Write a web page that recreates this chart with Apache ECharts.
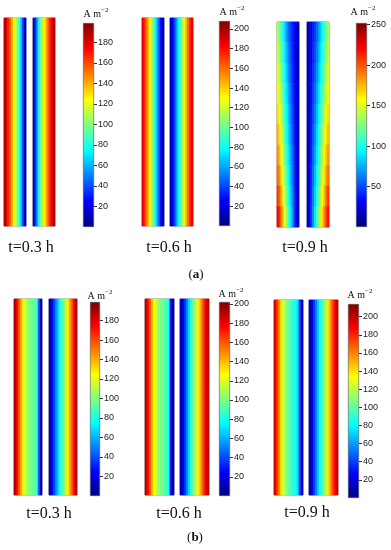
<!DOCTYPE html>
<html><head><meta charset="utf-8">
<script src="https://cdn.jsdelivr.net/npm/echarts@6/dist/echarts.min.js"></script>
<style>html,body{margin:0;padding:0;background:#fff}#c{width:391px;height:550px}</style>
</head><body><div id="c"></div>
<script>
// ---------- DATA ----------
// Each strip profile: values across the strip width, left -> right (A m^-2)
const a1Left  = [190, 180, 168, 155, 140, 126, 112, 99, 84, 62, 38, 16];
const a1Right = [15, 34, 58, 80, 98, 112, 127, 142, 157, 170, 181, 190];
const a2Left  = [186, 175, 160, 145, 128, 112, 95, 78, 60, 42, 26, 12];
const a2Right = [12, 25, 40, 58, 76, 94, 111, 128, 145, 160, 174, 186];
// a3 varies with height: rows from top to bottom
const a3LeftRows = [
  [136, 125, 111, 97, 84, 70, 58, 47, 38, 29, 21, 14],
  [143, 132, 118, 104, 90, 76, 63, 51, 41, 31, 22, 14],
  [151, 140, 125, 111, 96, 82, 68, 55, 44, 33, 23, 14],
  [159, 148, 133, 118, 103, 88, 73, 60, 47, 35, 24, 14],
  [167, 156, 141, 125, 110, 94, 79, 64, 50, 37, 24, 14],
  [176, 164, 149, 133, 117, 100, 84, 69, 54, 39, 25, 14],
  [185, 173, 157, 141, 124, 107, 90, 74, 58, 41, 26, 14],
  [195, 183, 166, 149, 132, 114, 96, 79, 62, 43, 27, 14],
  [208, 196, 177, 160, 142, 122, 103, 85, 66, 45, 27, 14],
  [222, 210, 190, 172, 153, 131, 110, 91, 70, 47, 28, 14]
];
const a3RightRows = [
  [14, 20, 28, 37, 46, 57, 69, 82, 96, 110, 123, 134],
  [14, 21, 30, 40, 50, 62, 75, 88, 102, 116, 130, 141],
  [14, 22, 32, 43, 54, 67, 80, 94, 109, 123, 138, 149],
  [14, 23, 34, 46, 58, 72, 86, 101, 116, 131, 146, 157],
  [14, 23, 36, 49, 63, 77, 92, 108, 123, 139, 154, 165],
  [14, 24, 38, 52, 67, 83, 98, 115, 131, 147, 162, 174],
  [14, 25, 40, 56, 72, 88, 105, 122, 139, 155, 171, 183],
  [14, 26, 42, 60, 77, 94, 112, 129, 147, 164, 180, 193],
  [14, 27, 44, 64, 83, 101, 120, 138, 157, 174, 192, 206],
  [14, 28, 46, 68, 89, 108, 128, 148, 168, 187, 205, 218]
];
const b1Left  = [190, 178, 160, 143, 128, 117, 108, 102, 98, 95, 92, 88, 45, 12];
const b1Right = [10, 22, 36, 50, 64, 77, 89, 101, 114, 127, 141, 156, 172, 188];
const b2Left  = [190, 176, 158, 140, 126, 115, 106, 100, 96, 93, 90, 80, 30, 10];
const b2Right = [10, 20, 35, 52, 68, 82, 95, 108, 121, 135, 150, 166, 180, 190];
const b3Left  = [195, 180, 160, 142, 128, 116, 106, 98, 92, 88, 84, 76, 40, 12];
const b3Right = [10, 22, 38, 55, 70, 84, 96, 110, 124, 140, 156, 172, 186, 198];

const timeLabels   = ['t=0.3 h', 't=0.6 h', 't=0.9 h', 't=0.3 h', 't=0.6 h', 't=0.9 h'];
const colorbarMin  = [0, 0, 0, 0, 0, 0];
const colorbarMax  = [199, 208, 252, 199, 202, 214];
const tickInterval = [20, 20, 50, 20, 20, 20];
const sectionLabels = ['a', 'b'];

// ---------- LAYOUT ----------
const stripData = [
  [[a1Left], [a1Right]],
  [[a2Left], [a2Right]],
  [a3LeftRows, a3RightRows],
  [[b1Left], [b1Right]],
  [[b2Left], [b2Right]],
  [[b3Left], [b3Right]]
];
const layout = [
  {L:[4,18,22,208],   R:[33,18,22,208],   cb:[83,23,11,204],   unit:[96,13],   time:[31,248]},
  {L:[142,18,22,208], R:[170,18,23,208],  cb:[219,21,11,205],  unit:[232,11],  time:[169,248]},
  {L:[277,22,22,205], R:[307,22,22,205],  cb:[356,23,11,204],  unit:[363,11],  time:[305,248]},
  {L:[14,299,28,196], R:[49,299,28,196],  cb:[90,302,10,194],  unit:[100,295], time:[49,514]},
  {L:[145,299,29,196],R:[180,299,29,196], cb:[219,302,11,194], unit:[231,293], time:[179,514]},
  {L:[274,300,29,195],R:[309,300,29,195], cb:[348,304,11,194], unit:[360,294], time:[307,513]}
];
const sectionPos = [[196,275],[195,538]];

const jet = ['#00007f','#0000ff','#007fff','#00ffff','#7fff7f','#ffff00','#ff7f00','#ff0000','#7f0000'];

const grids = [], xAxes = [], yAxes = [], series = [], visualMaps = [], graphics = [];

function addStrip(rect, rows) {
  const gi = grids.length;
  grids.push({left: rect[0], top: rect[1], width: rect[2], height: rect[3],
    show: true, borderColor: '#8a8a8a', borderWidth: 1, backgroundColor: 'transparent'});
  const nCols = rows[0].length;
  xAxes.push({type: 'category', gridIndex: gi, show: false,
    data: rows[0].map((_, i) => i)});
  yAxes.push({type: 'category', gridIndex: gi, show: false, inverse: true,
    data: rows.map((_, i) => i)});
  const d = [];
  rows.forEach((r, ri) => r.forEach((v, ci) => d.push([ci, ri, v])));
  series.push({type: 'heatmap', xAxisIndex: gi, yAxisIndex: gi, data: d,
    progressive: 0, emphasis: {disabled: true}, silent: true});
  return series.length - 1;
}

layout.forEach((lay, p) => {
  const sL = addStrip(lay.L, stripData[p][0]);
  const sR = addStrip(lay.R, stripData[p][1]);
  visualMaps.push({type: 'continuous', show: false, min: colorbarMin[p], max: colorbarMax[p],
    seriesIndex: [sL, sR], inRange: {color: jet}});
  // colorbar
  const gi = grids.length;
  grids.push({left: lay.cb[0], top: lay.cb[1], width: lay.cb[2], height: lay.cb[3],
    show: false});
  xAxes.push({type: 'category', gridIndex: gi, show: false, data: ['c']});
  yAxes.push({type: 'value', gridIndex: gi, position: 'right',
    min: colorbarMin[p], max: colorbarMax[p], interval: tickInterval[p],
    splitLine: {show: false},
    axisLine: {show: false},
    axisTick: {show: true, length: 3, inside: false, lineStyle: {color: '#333', width: 1}},
    axisLabel: {showMinLabel: false, showMaxLabel: false, fontSize: 9, margin: 4,
      color: '#222', fontFamily: 'Liberation Sans, Arial, sans-serif'}});
  series.push({type: 'bar', xAxisIndex: gi, yAxisIndex: gi, data: [colorbarMax[p]],
    barWidth: '100%', silent: true, animation: false,
    itemStyle: {borderColor: '#555', borderWidth: 0.6,
      color: new echarts.graphic.LinearGradient(0, 0, 0, 1,
        jet.slice().reverse().map((c, i) => ({offset: i / (jet.length - 1), color: c})))}});
  // unit label
  graphics.push({type: 'text', x: lay.unit[0], y: lay.unit[1], silent: true,
    style: {text: '{a|A m}{s|−2}', align: 'center', verticalAlign: 'middle',
      rich: {a: {fontSize: 10, fontFamily: 'Liberation Serif, Times New Roman, serif', fill: '#111', lineHeight: 12, verticalAlign: 'bottom'},
             s: {fontSize: 7, fontFamily: 'Liberation Serif, Times New Roman, serif', fill: '#111', lineHeight: 12, verticalAlign: 'top'}}}});
  // time label
  graphics.push({type: 'text', x: lay.time[0], y: lay.time[1], silent: true,
    style: {text: timeLabels[p], align: 'center', verticalAlign: 'middle',
      fontSize: 16, fontFamily: 'Liberation Serif, Times New Roman, serif', fill: '#111'}});
});

sectionLabels.forEach((s, i) => {
  graphics.push({type: 'text', x: sectionPos[i][0], y: sectionPos[i][1], silent: true,
    style: {text: '{p|(}{b|' + s + '}{p|)}', align: 'center', verticalAlign: 'middle',
      rich: {p: {fontSize: 13, fontFamily: 'Liberation Serif, serif', fill: '#111'},
             b: {fontSize: 13, fontWeight: 'bold', fontFamily: 'Liberation Serif, serif', fill: '#111'}}}});
});

const chart = echarts.init(document.getElementById('c'), null, {renderer: 'canvas'});
chart.setOption({
  animation: false,
  backgroundColor: '#fff',
  grid: grids, xAxis: xAxes, yAxis: yAxes,
  visualMap: visualMaps, series: series, graphic: graphics
});
</script></body></html>
